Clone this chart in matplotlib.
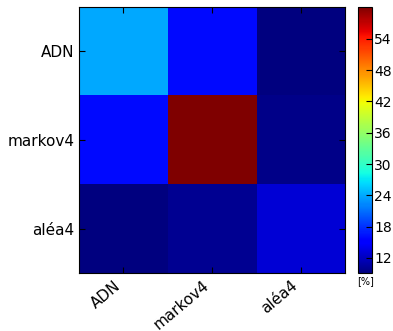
import numpy as np
import matplotlib
matplotlib.use('Agg')
import matplotlib.pyplot as plt

# Percentages for each pair (rows: reference, columns: compared sequence)
labels = ['ADN', 'markov4', 'aléa4']
values = np.array([
    [23.9, 16.0, 9.1],
    [16.0, 60.1, 9.6],
    [9.2, 10.0, 12.9],
])
cbar_ticks = [12, 18, 24, 30, 36, 42, 48, 54]

plt.rcParams['xtick.direction'] = 'in'
plt.rcParams['ytick.direction'] = 'in'
plt.rcParams['xtick.top'] = True
plt.rcParams['ytick.right'] = True

fig = plt.figure(figsize=(3.93, 3.31), dpi=100)
ax = fig.add_axes([0.201, 0.175, 0.677, 0.804])
cax = fig.add_axes([0.911, 0.175, 0.036, 0.804])

im = ax.imshow(values, cmap='jet', interpolation='nearest', aspect='auto',
               vmin=values.min(), vmax=values.max())
ax.set_xticks(range(len(labels)))
ax.set_yticks(range(len(labels)))
ax.set_xticklabels(labels, rotation=40, ha='right', fontsize=11)
ax.set_yticklabels(labels, fontsize=11)
ax.tick_params(length=4, width=0.8)

cb = fig.colorbar(im, cax=cax, ticks=cbar_ticks)
cb.ax.tick_params(labelsize=10, direction='in', length=4, pad=1.5)
cb.outline.set_linewidth(0.8)
cax.text(0.5, -0.012, '[%]', transform=cax.transAxes, ha='center', va='top',
         fontsize=7)

fig.savefig('out.png', dpi=100)
